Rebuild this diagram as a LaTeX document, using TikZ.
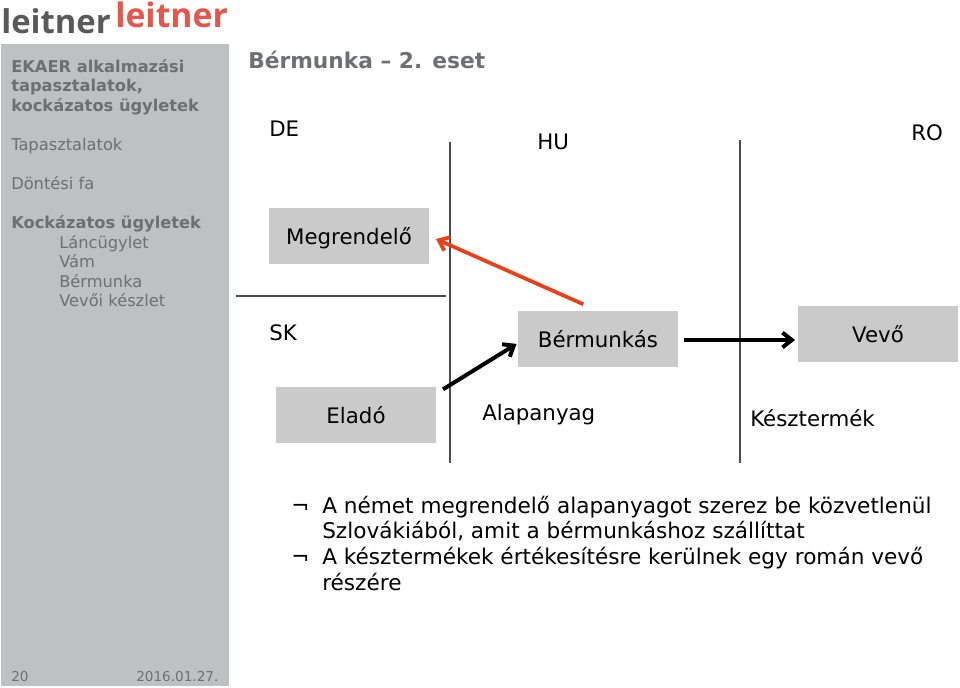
\documentclass[tikz,border=0pt]{standalone}
\usepackage{xcolor}
\usepackage{fontspec}
\setmainfont{DejaVu Sans}
\newfontfamily\logofont{Open Sans}
\usetikzlibrary{positioning,arrows.meta}
\definecolor{sidegray}{HTML}{BFC0C2}
\definecolor{sidetext}{HTML}{6E6F72}
\definecolor{boxgray}{HTML}{CACACA}
\definecolor{arrowred}{HTML}{E8411A}
\definecolor{logored}{HTML}{E4574A}

\begin{document}
\begin{tikzpicture}[>={Straight Barb[length=7pt,width=11pt]},x=0.75pt,y=-0.75pt]
  \tikzstyle{party}=[fill=boxgray,minimum width=120pt,minimum height=42pt,inner sep=0pt,text height=12pt,text depth=0pt,font=\fontsize{16}{18}\selectfont]
  \tikzstyle{label}=[anchor=base west,inner sep=0pt,font=\fontsize{16}{18}\selectfont]
  \tikzstyle{side}=[anchor=base west,inner sep=0pt,text=sidetext,font=\fontsize{12.2}{15}\selectfont]
  \tikzstyle{sidebold}=[side,font=\fontsize{12.2}{15}\selectfont\bfseries]
  \tikzstyle{foot}=[side,font=\fontsize{10.2}{12}\selectfont]
  \tikzstyle{body}=[anchor=base west,inner sep=0pt,font=\fontsize{16.2}{18}\selectfont]
  \tikzstyle{border}=[draw=black!70,line width=0.9pt]
  \tikzstyle{flow}=[->,line width=3pt]
  \tikzstyle{logo}=[anchor=base west,inner sep=0pt,font=\logofont\fontsize{25.3}{30}\selectfont\bfseries]

  \useasboundingbox (0,0) rectangle (960,687);
  \fill[sidegray] (1,44) rectangle (229,686);

  % logo
  \node[logo,text=black!65,font=\logofont\fontsize{24.6}{30}\selectfont\bfseries] (logoa) at (1,33) {leitner};
  \node[logo,text=logored] (logob) at (115,27) {leitner};

  % sidebar
  \node[sidebold] (s1) at (11,72) {EKAER alkalmazási};
  \node[sidebold] (s2) at (11,91) {tapasztalatok,};
  \node[sidebold] (s3) at (11,111) {kockázatos ügyletek};
  \node[side] (s4) at (11,150) {Tapasztalatok};
  \node[side] (s5) at (11,189) {Döntési fa};
  \node[sidebold] (s6) at (11,228) {Kockázatos ügyletek};
  \node[side] (s7) at (59,248) {Láncügylet};
  \node[side] (s8) at (59,267) {Vám};
  \node[side] (s9) at (59,287) {Bérmunka};
  \node[side] (s10) at (59,306) {Vevői készlet};
  \node[foot] (page) at (11,681) {20};
  \node[foot] (date) at (136,681) {2016.01.27.};

  \node[label,text=sidetext,font=\fontsize{16.3}{20}\selectfont\bfseries] (title) at (248,68) {Bérmunka -- 2. eset};

  % countries
  \node[label] (de) at (269,136) {DE};
  \node[label] (hu) at (537,149) {HU};
  \node[label] (ro) at (911,140) {RO};
  \node[label] (sk) at (269,340) {SK};

  \coordinate (nsa) at (450,142);
  \coordinate (nsb) at (450,463);
  \coordinate (nsc) at (740,140);
  \coordinate (nsd) at (740,463);
  \coordinate (wea) at (236,296);
  \coordinate (web) at (446,296);
  \draw[border] (nsa) -- (nsb);
  \draw[border] (nsc) -- (nsd);
  \draw[border] (wea) -- (web);

  \node[party] (megrendelo) at (349,236) {Megrendelő};
  \node[party] (bermunkas) at (598,339) {Bérmunkás};
  \node[party] (vevo) at (878,334) {Vevő};
  \node[party] (elado) at (356,415) {Eladó};

  \node[label] (alapanyag) at (482,420) {Alapanyag};
  \node[label] (keszt) at (750,426) {Késztermék};

  \draw[->,draw=arrowred,line width=2.8pt,shorten >=5.5pt,shorten <=12pt] (bermunkas.north) -- (megrendelo.east);
  \draw[flow,shorten <=6pt,shorten >=1pt] (elado.15) -- (bermunkas.183);
  \draw[flow,shorten <=4pt,shorten >=2pt] ([yshift=-0.75pt]bermunkas.east) -- ([yshift=-0.75pt]bermunkas.east -| vevo.west);

  % text below
  \node[body] (ba) at (291,513) {¬};
  \node[body] (t1) at (322,513) {A német megrendelő alapanyagot szerez be közvetlenül};
  \node[body] (t2) at (322,538) {Szlovákiából, amit a bérmunkáshoz szállíttat};
  \node[body] (bb) at (291,564) {¬};
  \node[body] (t3) at (322,564) {A késztermékek értékesítésre kerülnek egy román vevő};
  \node[body] (t4) at (322,590) {részére};
\end{tikzpicture}
\end{document}
